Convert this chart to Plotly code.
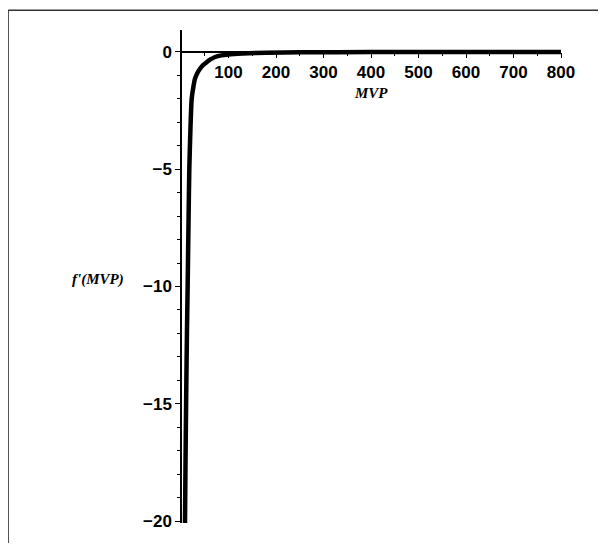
import plotly.graph_objects as go

# values
mvp = [8.4, 9.5, 11, 12.5, 14, 16, 17.5, 20, 22.5, 26, 29.5, 34, 40, 47, 54, 62, 72, 85, 99,
       130, 180, 250, 400, 600, 800]
fprime = [-20.1, -17.5, -14.5, -12.0, -10.0, -7.0, -5.0, -3.2, -2.0, -1.5, -1.14, -0.92, -0.72,
          -0.56, -0.44, -0.32, -0.22, -0.15, -0.11, -0.07, -0.04, -0.02, -0.01, -0.005, -0.003]
x_ticks = [100, 200, 300, 400, 500, 600, 700, 800]
y_ticks = [0, -5, -10, -15, -20]

X_RANGE = [0, 800]
Y_RANGE = [-20.08, 0.93]

fig = go.Figure()
fig.add_trace(go.Scatter(x=mvp, y=fprime, mode="lines",
                         line=dict(color="black", width=4.5, shape="spline", smoothing=0.6),
                         hoverinfo="skip", showlegend=False))

tickfont = dict(family="Liberation Sans", size=17, color="black", weight="bold")
y0_frac = (0 - Y_RANGE[0]) / (Y_RANGE[1] - Y_RANGE[0])

fig.update_layout(
    width=590, height=535,
    margin=dict(l=173, r=37, t=22, b=16),
    paper_bgcolor="white", plot_bgcolor="white",
    xaxis=dict(range=X_RANGE, anchor="free", position=y0_frac,
               showline=True, linecolor="black", linewidth=1.5,
               showgrid=False, zeroline=False,
               tickvals=x_ticks, ticks="outside", ticklen=5, tickwidth=1.2,
               tickcolor="black", tickfont=tickfont,
               minor=dict(ticks="outside", ticklen=3, dtick=50, tick0=0,
                          tickcolor="black", tickwidth=1, showgrid=False)),
    yaxis=dict(range=Y_RANGE, anchor="free", position=0,
               showline=True, linecolor="black", linewidth=1.5,
               showgrid=False, zeroline=False,
               tickvals=y_ticks, ticks="outside", ticklen=5, tickwidth=1.2,
               tickcolor="black", tickfont=tickfont,
               minor=dict(ticks="outside", ticklen=3, dtick=1, tick0=0,
                          tickcolor="black", tickwidth=1, showgrid=False)),
    annotations=[
        dict(text="<b><i>MVP</i></b>", x=400, y=-1.75, xref="x", yref="y",
             showarrow=False, font=dict(family="Liberation Serif", size=15, color="black")),
        dict(text="<b><i>f'(MVP)</i></b>", x=-0.218, y=-9.7, xref="paper", yref="y",
             xanchor="center", showarrow=False,
             font=dict(family="Liberation Serif", size=15, color="black")),
    ],
    shapes=[
        dict(type="line", xref="paper", yref="paper", x0=-0.455, x1=-0.455, y0=1.040, y1=-0.1,
             line=dict(color="#333333", width=1.5)),
        dict(type="line", xref="paper", yref="paper", x0=-0.455, x1=1.2, y0=1.040, y1=1.040,
             line=dict(color="#333333", width=1.5)),
    ],
)

fig.write_html("out.html")
